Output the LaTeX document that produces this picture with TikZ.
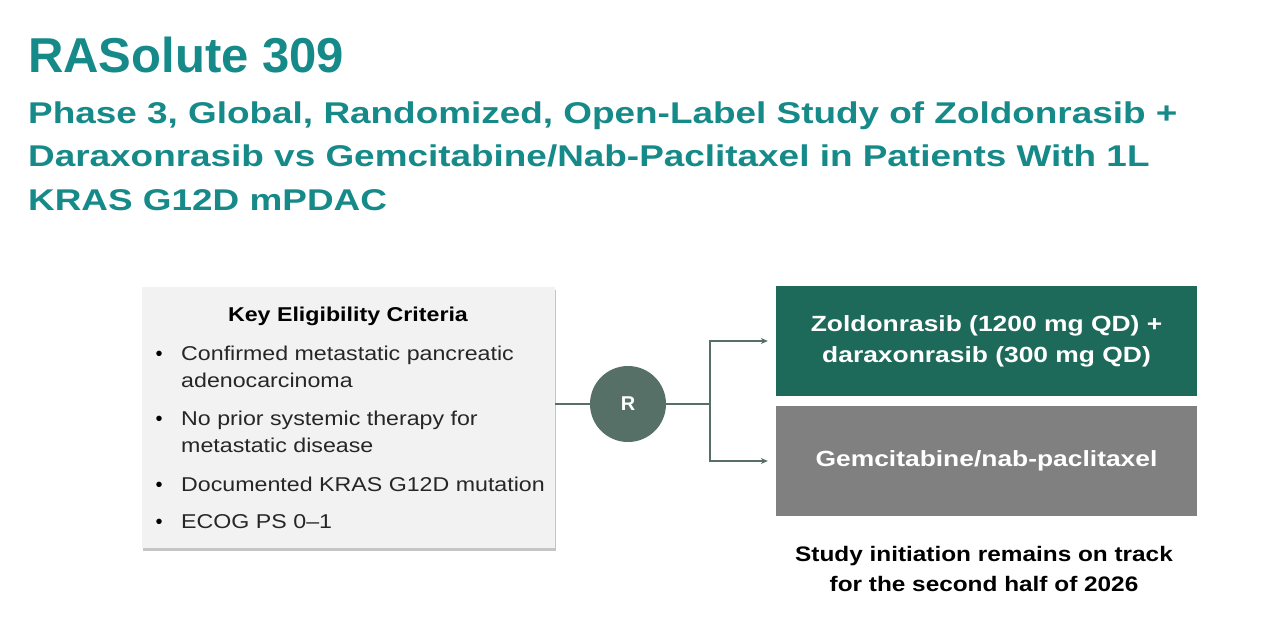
\documentclass[tikz,border=0pt]{standalone}
\usepackage{fontspec}
\setmainfont{Liberation Sans}
\newfontfamily\widesans[FakeStretch=1.16,Ligatures=TeX]{Liberation Sans}
\newfontfamily\armsans[FakeStretch=1.2,Ligatures=TeX]{Liberation Sans}
\newfontfamily\subsans[FakeStretch=1.23,Ligatures=TeX]{Liberation Sans}
\usetikzlibrary{positioning,shadows,arrows.meta}
\definecolor{titleteal}{RGB}{22,137,137}
\definecolor{armgreen}{RGB}{30,106,90}
\definecolor{armgray}{RGB}{128,128,128}
\definecolor{randgreen}{RGB}{86,112,104}
\definecolor{panelgray}{RGB}{242,242,242}

\begin{document}
\begin{tikzpicture}[
  x=1pt, y=-1pt,
  titletext/.style={anchor=base west, text=titleteal, inner sep=0pt,
                    font=\fontsize{49}{49}\selectfont\bfseries},
  subtext/.style={anchor=base west, text=titleteal, inner sep=0pt,
                  font=\subsans\fontsize{30}{30}\selectfont\bfseries},
  panel/.style={draw=none, fill=panelgray, minimum width=413pt,
                minimum height=261pt, inner sep=0pt,
                drop shadow={shadow xshift=1pt, shadow yshift=-3pt,
                             fill=black!45, opacity=0.5}},
  bullet/.style={anchor=base west, inner sep=0pt, text=black!85,
                 font=\widesans\fontsize{20}{27}\selectfont, align=left},
  armbox/.style={minimum width=421pt, minimum height=110pt, inner sep=0pt,
                 text=white, align=center,
                 font=\armsans\fontsize{22}{31}\selectfont\bfseries},
  randcircle/.style={circle, fill=randgreen, text=white, minimum size=76pt,
                     inner sep=0pt, font=\fontsize{20}{20}\selectfont\bfseries},
  link/.style={draw=randgreen, line width=1.2pt},
  arrowlink/.style={link, -{Stealth[length=7pt, width=6pt]}}
]
  \useasboundingbox[fill=white] (0,0) rectangle (1266,624);

  % heading
  \node[titletext] (title) at (28,72) {RASolute 309};
  \node[subtext] (sub1) at (28,123)
    {Phase 3, Global, Randomized, Open-Label Study of Zoldonrasib +};
  \node[subtext] (sub2) at (28,166)
    {Daraxonrasib vs Gemcitabine/Nab-Paclitaxel in Patients With 1L};
  \node[subtext] (sub3) at (28,210) {KRAS G12D mPDAC};

  % eligibility panel
  \node[panel] (crit) at (348.5,417.5) {};
  \node[anchor=base, inner sep=0pt,
        font=\widesans\fontsize{20}{20}\selectfont\bfseries]
        (crithead) at (348,321) {Key Eligibility Criteria};
  \foreach \yd/\yt/\txt [count=\n] in {
      360/387/{Confirmed metastatic pancreatic\\adenocarcinoma},
      425/452/{No prior systemic therapy for\\metastatic disease},
      491/491/{Documented KRAS G12D mutation},
      528/528/{ECOG PS 0–1}} {
    \node[anchor=base, inner sep=0pt, font=\fontsize{20}{20}\selectfont]
          (dot\n) at (159,\yd) {•};
    \node[bullet] (item\n) at (181,\yt) {\txt};
  }

  % randomisation
  \node[randcircle] (rand) at (628,404) {R};
  \coordinate (split) at (710,404);

  \node[armbox, fill=armgreen] (arm1) at (986.5,341)
    {Zoldonrasib (1200 mg QD) +\\daraxonrasib (300 mg QD)};
  \node[armbox, fill=armgray] (arm2) at (986.5,461) {Gemcitabine/nab-paclitaxel};

  \draw[link] (crit.east |- rand) -- (rand);
  \draw[link] (rand) -- (split);
  \draw[arrowlink] (split) |- ([xshift=-8pt]arm1.west);
  \draw[arrowlink] (split) |- ([xshift=-8pt]arm2.west);

  \node[anchor=north, align=center, inner sep=0pt,
        font=\widesans\fontsize{21}{30}\selectfont\bfseries]
        (note) at (984,546)
        {Study initiation remains on track\\for the second half of 2026};
\end{tikzpicture}
\end{document}
